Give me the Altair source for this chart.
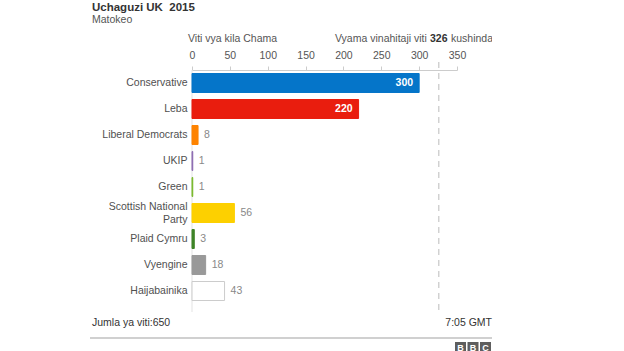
import altair as alt
import pandas as pd

parties = ["Conservative", "Leba", "Liberal Democrats", "UKIP", "Green",
           "Scottish National Party", "Plaid Cymru", "Vyengine", "Haijabainika"]
seats = [300, 220, 8, 1, 1, 56, 3, 18, 43]
fills = ["#0575c9", "#e91d0e", "#fe8300", "#8c6bb1", "#78b82a",
         "#fdd000", "#3f8428", "#999999", "#ffffff"]
strokes = ["#0575c9", "#e91d0e", "#fe8300", "#8c6bb1", "#78b82a",
           "#fdd000", "#3f8428", "#999999", "#cccccc"]
inside = [True, True, False, False, False, False, False, False, False]
majority = 326
total_seats = 650
axis_ticks = [0, 50, 100, 150, 200, 250, 300, 350]

df = pd.DataFrame({"party": parties, "seats": seats, "fill": fills,
                   "stroke": strokes, "inside": inside})

FONT = "Liberation Sans"
FS = 10.5

xs = alt.Scale(domain=[0, 350], nice=False)
ys = alt.Scale(domain=parties, paddingInner=0.27, paddingOuter=0.135)

x_axis = alt.Axis(orient="top", values=axis_ticks, title=None, grid=False,
                  domainColor="#cccccc", tickColor="#cccccc", tickSize=4,
                  labelPadding=6, labelFontSize=FS, labelColor="#555555",
                  labelFont=FONT, labelFontWeight="normal",
                  labelOverlap=False, labelFlush=False)
y_axis = alt.Axis(title=None, domain=False, ticks=False, labelPadding=5,
                  labelFontSize=FS, labelColor="#505050", labelFont=FONT,
                  labelFontWeight="normal", labelLineHeight=13,
                  labelOverlap=False,
                  labelOffset={"expr": "datum.value == 'Scottish National Party' ? -6.5 : 0"},
                  labelExpr="datum.value == 'Scottish National Party' ? ['Scottish National', 'Party'] : datum.value")

X = alt.X("seats:Q", scale=xs, axis=x_axis)
Y = alt.Y("party:N", scale=ys, sort=parties, axis=y_axis)

base = alt.Chart(df)

bars = base.mark_bar(strokeWidth=1).encode(
    x=X, y=Y,
    fill=alt.Fill("fill:N", scale=None),
    stroke=alt.Stroke("stroke:N", scale=None),
)

lab_in = base.transform_filter("datum.inside").mark_text(
    align="right", dx=-6, color="white", fontWeight="bold", fontSize=FS, font=FONT,
    baseline="middle").encode(x=X, y=Y, text="seats:Q")

lab_out = base.transform_filter("!datum.inside").mark_text(
    align="left", dx=6, color="#888888", fontSize=FS, font=FONT,
    baseline="middle").encode(x=X, y=Y, text="seats:Q")

one = alt.Data(values=[{}])

left_line = alt.Chart(one).mark_rule(color="#e3e3e3", strokeWidth=1).encode(
    x=alt.value(0), y=alt.value(0), y2=alt.value(242))

maj_line = alt.Chart(alt.Data(values=[{"m": majority}])).mark_rule(
    color="#bbbbbb", strokeWidth=1, strokeDash=[6, 5]).encode(
    x=alt.X("m:Q", scale=xs, axis=x_axis), y=alt.value(-8), y2=alt.value(243))


def txt(text, x, y, size=FS, color="#555555", weight="normal", align="left"):
    return alt.Chart(one).mark_text(
        text=text, fontSize=size, color=color, fontWeight=weight, align=align,
        baseline="alphabetic", font=FONT).encode(x=alt.value(x), y=alt.value(y))


title = txt("Uchaguzi UK\u00a0\u00a02015", -100, -59, size=11.5, color="#333333", weight="bold")
subtitle = txt("Matokeo", -100, -47, color="#555555")
h1 = txt("Viti vya kila Chama", -4, -28, color="#555555")
h2a = txt("Vyama vinahitaji viti", 143, -28, color="#555555")
h2b = txt(str(majority), 238, -28, color="#333333", weight="bold")
h2c = txt("kushinda", 259, -28, color="#555555")
foot1 = txt(f"Jumla ya viti:{total_seats}", -100, 256, color="#333333")
foot2 = txt("7:05 GMT", 300, 256, color="#333333", align="right")

sep = alt.Chart(one).mark_rule(color="#d0d0d0", strokeWidth=2).encode(
    x=alt.value(-102), x2=alt.value(300), y=alt.value(268))

# white strip cropping the right side like the original graphic
crop = alt.Chart(one).mark_rect(color="white").encode(
    x=alt.value(300), x2=alt.value(432), y=alt.value(-70), y2=alt.value(270))

logo_boxes = []
for i, letter in enumerate(["B", "B", "C"]):
    x0 = 263 + i * 12.5
    logo_boxes.append(alt.Chart(one).mark_rect(color="#5e5e5e").encode(
        x=alt.value(x0), x2=alt.value(x0 + 11), y=alt.value(272), y2=alt.value(282)))
    logo_boxes.append(alt.Chart(one).mark_text(
        text=letter, color="white", fontWeight="bold", fontSize=9, font=FONT,
        align="center", baseline="middle").encode(
        x=alt.value(x0 + 5.5), y=alt.value(277.5)))

chart = alt.layer(
    left_line, maj_line, bars, lab_in, lab_out,
    title, subtitle, h1, h2a, h2b, h2c, crop, foot1, foot2, sep, *logo_boxes
).properties(
    width=265, height=234,
    autosize=alt.AutoSizeParams(type="none"),
    padding={"left": 192, "top": 70, "right": 167, "bottom": 47},
    background="white",
).configure_view(stroke=None)

chart.save("out.html", embed_options={"renderer": "svg", "actions": False})
